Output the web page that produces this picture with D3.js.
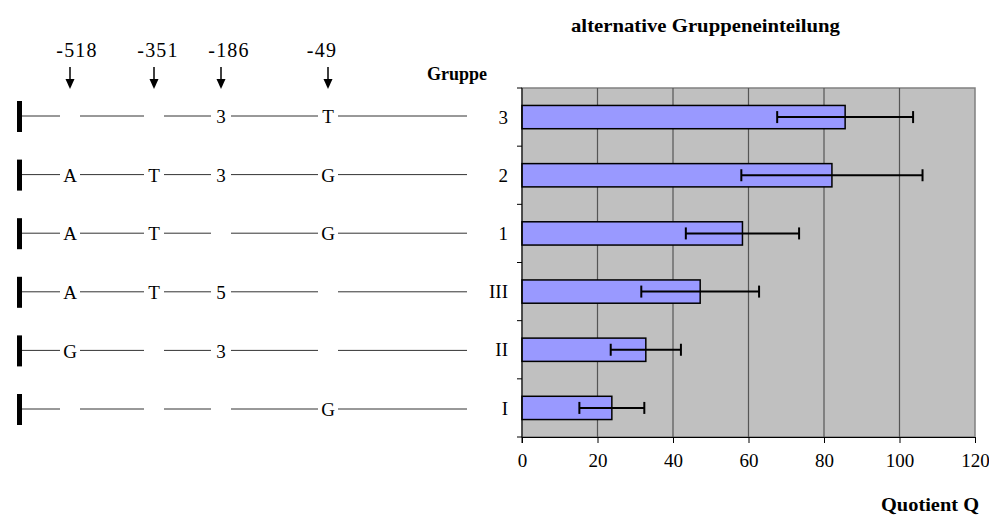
<!DOCTYPE html>
<html>
<head>
<meta charset="utf-8">
<script src="https://cdn.jsdelivr.net/npm/d3@7"></script>
<style>
    body { margin: 0; background: #fff; }
    text { font-family: "Liberation Serif", "Times New Roman", serif; fill: #000; }
</style>
</head>
<body>
<div id="chart"></div>
<script>

// data
const groups = ['3', '2', '1', 'III', 'II', 'I'];
const quotient = [85.6, 82.1, 58.4, 47.2, 32.8, 23.8];
const quotientErr = [18, 24, 15, 15.6, 9.3, 8.6];
const xTicks = [0, 20, 40, 60, 80, 100, 120];

// promoter positions and the allele shown in each group (null = none)
const positions = ['-518', '-351', '-186', '-49'];
const alleles = [
    [null, null, '3', 'T'],
    ['A', 'T', '3', 'G'],
    ['A', 'T', null, 'G'],
    ['A', 'T', '5', null],
    ['G', null, '3', null],
    [null, null, null, 'G']
];

// schematic layout of the promoter drawing
const markerX = [70, 154, 221, 328];
const labelX = [77, 158, 229, 322];

const width = 989, height = 517;
const plot = {left: 522, right: 975, top: 88, bottom: 437};

const svg = d3.select('#chart').append('svg')
    .attr('width', width)
    .attr('height', height);

// title
svg.append('text')
    .attr('x', 571)
    .attr('y', 32)
    .attr('font-size', 19)
    .attr('font-weight', 'bold')
    .attr('textLength', 269)
    .attr('lengthAdjust', 'spacingAndGlyphs')
    .text('alternative Gruppeneinteilung');

// scales
let x = d3.scaleLinear().domain([0, 120]).range([plot.left, plot.right]);
let y = d3.scaleBand().domain(groups).range([plot.top, plot.bottom])
    .paddingInner(0.6).paddingOuter(0.3);
let rowY = d3.scalePoint().domain(groups).range([116, 409]);

// plot background
svg.append('rect')
    .attr('x', plot.left)
    .attr('y', plot.top)
    .attr('width', plot.right - plot.left)
    .attr('height', plot.bottom - plot.top)
    .attr('fill', '#c0c0c0')
    .attr('stroke', '#808080')
    .attr('stroke-width', 1.5);

// grid lines
svg.append('g')
    .selectAll('line')
    .data(xTicks.slice(1, -1))
    .enter().append('line')
    .attr('x1', d => x(d)).attr('x2', d => x(d))
    .attr('y1', plot.top).attr('y2', plot.bottom)
    .attr('stroke', '#555')
    .attr('stroke-width', 1.2);

// bars
let rows = groups.map((g, i) => ({group: g, value: quotient[i], err: quotientErr[i]}));

svg.append('g')
    .selectAll('rect')
    .data(rows)
    .enter().append('rect')
    .attr('x', x(0))
    .attr('y', d => y(d.group))
    .attr('width', d => x(d.value) - x(0))
    .attr('height', y.bandwidth())
    .attr('fill', '#9999ff')
    .attr('stroke', '#000')
    .attr('stroke-width', 1.5);

// error bars
let errG = svg.append('g').attr('stroke', '#000').attr('stroke-width', 2);
rows.forEach(d => {
    let cy = y(d.group) + y.bandwidth() / 2;
    errG.append('line')
        .attr('x1', x(d.value - d.err)).attr('x2', x(d.value + d.err))
        .attr('y1', cy).attr('y2', cy);
    [d.value - d.err, d.value + d.err].forEach(v => {
        errG.append('line')
            .attr('x1', x(v)).attr('x2', x(v))
            .attr('y1', cy - 6).attr('y2', cy + 6);
    });
});

// x axis
let xAxis = svg.append('g')
    .attr('transform', `translate(0,${plot.bottom})`)
    .call(d3.axisBottom(x).tickValues(xTicks).tickSize(6).tickPadding(11).tickSizeOuter(0));
xAxis.selectAll('text').attr('font-size', 19).attr('font-family', '"Liberation Serif", serif');
xAxis.select('.domain').attr('stroke', '#000');

// y axis: ticks sit between the categories
let yAxis = svg.append('g');
yAxis.append('line')
    .attr('x1', plot.left).attr('x2', plot.left)
    .attr('y1', plot.top).attr('y2', plot.bottom + 6)
    .attr('stroke', '#000');
yAxis.selectAll('.tick')
    .data(d3.range(groups.length + 1))
    .enter().append('line')
    .attr('x1', plot.left - 5).attr('x2', plot.left)
    .attr('y1', i => plot.top + i * y.step())
    .attr('y2', i => plot.top + i * y.step())
    .attr('stroke', '#000');
yAxis.selectAll('text')
    .data(groups)
    .enter().append('text')
    .attr('x', plot.left - 14)
    .attr('y', d => y(d) + y.bandwidth() / 2)
    .attr('dy', '0.35em')
    .attr('text-anchor', 'end')
    .attr('font-size', 19)
    .text(d => d);

svg.append('text')
    .attr('x', 427).attr('y', 80)
    .attr('font-size', 18)
    .attr('font-weight', 'bold')
    .text('Gruppe');

svg.append('text')
    .attr('x', 979).attr('y', 511)
    .attr('text-anchor', 'end')
    .attr('font-size', 19)
    .attr('font-weight', 'bold')
    .attr('textLength', 98)
    .attr('lengthAdjust', 'spacingAndGlyphs')
    .text('Quotient Q');

// promoter diagram: position labels and arrows
let arrows = svg.append('g');
positions.forEach((p, i) => {
    arrows.append('text')
        .attr('x', labelX[i]).attr('y', 57)
        .attr('text-anchor', 'middle')
        .attr('font-size', 20)
        .attr('letter-spacing', 1.2)
        .text(p);
    arrows.append('line')
        .attr('x1', markerX[i]).attr('x2', markerX[i])
        .attr('y1', 67).attr('y2', 82)
        .attr('stroke', '#000').attr('stroke-width', 1.5);
    arrows.append('path')
        .attr('d', `M${markerX[i] - 4.5},79 L${markerX[i] + 4.5},79 L${markerX[i]},89 Z`)
        .attr('fill', '#000');
});

// one line per group, broken at each position, allele letter in the gap
let lineStart = 22, lineEnd = 467, gap = 10;
let diagram = svg.append('g');
groups.forEach((g, r) => {
    let cy = rowY(g);
    diagram.append('rect')
        .attr('x', 17).attr('y', cy - 15)
        .attr('width', 5).attr('height', 31)
        .attr('fill', '#000');

    let edges = [lineStart];
    markerX.forEach(m => { edges.push(m - gap, m + gap); });
    edges.push(lineEnd);
    for (let k = 0; k < edges.length; k += 2) {
        diagram.append('line')
            .attr('x1', edges[k]).attr('x2', edges[k + 1])
            .attr('y1', cy).attr('y2', cy)
            .attr('stroke', '#333')
            .attr('stroke-width', 1);
    }

    alleles[r].forEach((a, i) => {
        if (a === null) return;
        diagram.append('text')
            .attr('x', markerX[i]).attr('y', cy)
            .attr('dy', '0.38em')
            .attr('text-anchor', 'middle')
            .attr('font-size', 19)
            .text(a);
    });
});

</script>
</body>
</html>
